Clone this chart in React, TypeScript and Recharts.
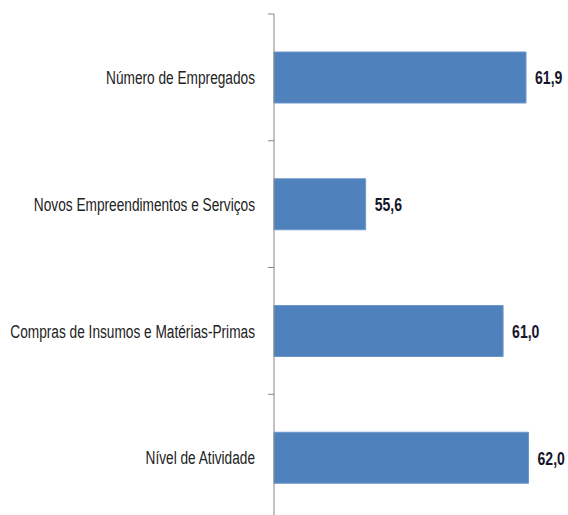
import React from "react";
import { BarChart, Bar, XAxis, YAxis, LabelList } from "recharts";

const categories = [
  "Número de Empregados",
  "Novos Empreendimentos e Serviços",
  "Compras de Insumos e Matérias-Primas",
  "Nível de Atividade",
];
const values = [61.9, 55.6, 61.0, 62.0];

const data = categories.map((name, i) => ({ name, value: values[i] }));

const FONT = "'Liberation Sans', Arial, sans-serif";
const CAT_SX = 0.72;
const VAL_SX = 0.74;
const TICK_MARGIN = 19;
const TICK_LEN = 6;
const AXIS_COLOR = "#868686";

const CatTick = (props: any) => {
  const { x, y, payload, index, visibleTicksCount } = props;
  const half = Number(payload?.offset ?? 0);
  const ax = Number(x) + TICK_MARGIN;
  const isLast = index === visibleTicksCount - 1;
  return (
    <g>
      <line x1={ax - TICK_LEN} x2={ax} y1={y - half} y2={y - half} stroke={AXIS_COLOR} />
      {isLast && (
        <line x1={ax - TICK_LEN} x2={ax} y1={y + half} y2={y + half} stroke={AXIS_COLOR} />
      )}
      <text
        transform={`translate(${x},${y}) scale(${CAT_SX},1)`}
        x={0}
        y={0}
        dy="0.36em"
        textAnchor="end"
        fontFamily={FONT}
        fontSize={19}
        fill="#222222"
      >
        {payload.value}
      </text>
    </g>
  );
};

const fmt = (v: any) => Number(v).toFixed(1).replace(".", ",");

const ValueLabel = (props: any) => {
  const { x, y, width, height, value } = props;
  const tx = Number(x) + Number(width) + 9;
  const ty = Number(y) + Number(height) / 2;
  return (
    <text
      transform={`translate(${tx},${ty}) scale(${VAL_SX},1)`}
      x={0}
      y={0}
      dy="0.36em"
      textAnchor="start"
      fontFamily={FONT}
      fontSize={19}
      fontWeight="bold"
      fill="#16162a"
    >
      {fmt(value)}
    </text>
  );
};

export default function App() {
  return (
    <div style={{ position: "absolute", left: 0, top: 0 }}>
      <BarChart
        width={568}
        height={530}
        data={data}
        layout="vertical"
        margin={{ top: 14, right: 14, bottom: 9, left: 0 }}
        barCategoryGap="60%"
      >
        <XAxis type="number" domain={[52, 63]} hide />
        <YAxis
          type="category"
          dataKey="name"
          width={274}
          axisLine={{ stroke: AXIS_COLOR }}
          tickLine={false}
          tickSize={0}
          tickMargin={TICK_MARGIN}
          tick={<CatTick />}
        />
        <Bar
          dataKey="value"
          fill="#4F81BD"
          stroke="#6C97CC"
          strokeWidth={1}
          barSize={51}
          isAnimationActive={false}
        >
          <LabelList dataKey="value" content={<ValueLabel />} />
        </Bar>
      </BarChart>
    </div>
  );
}
